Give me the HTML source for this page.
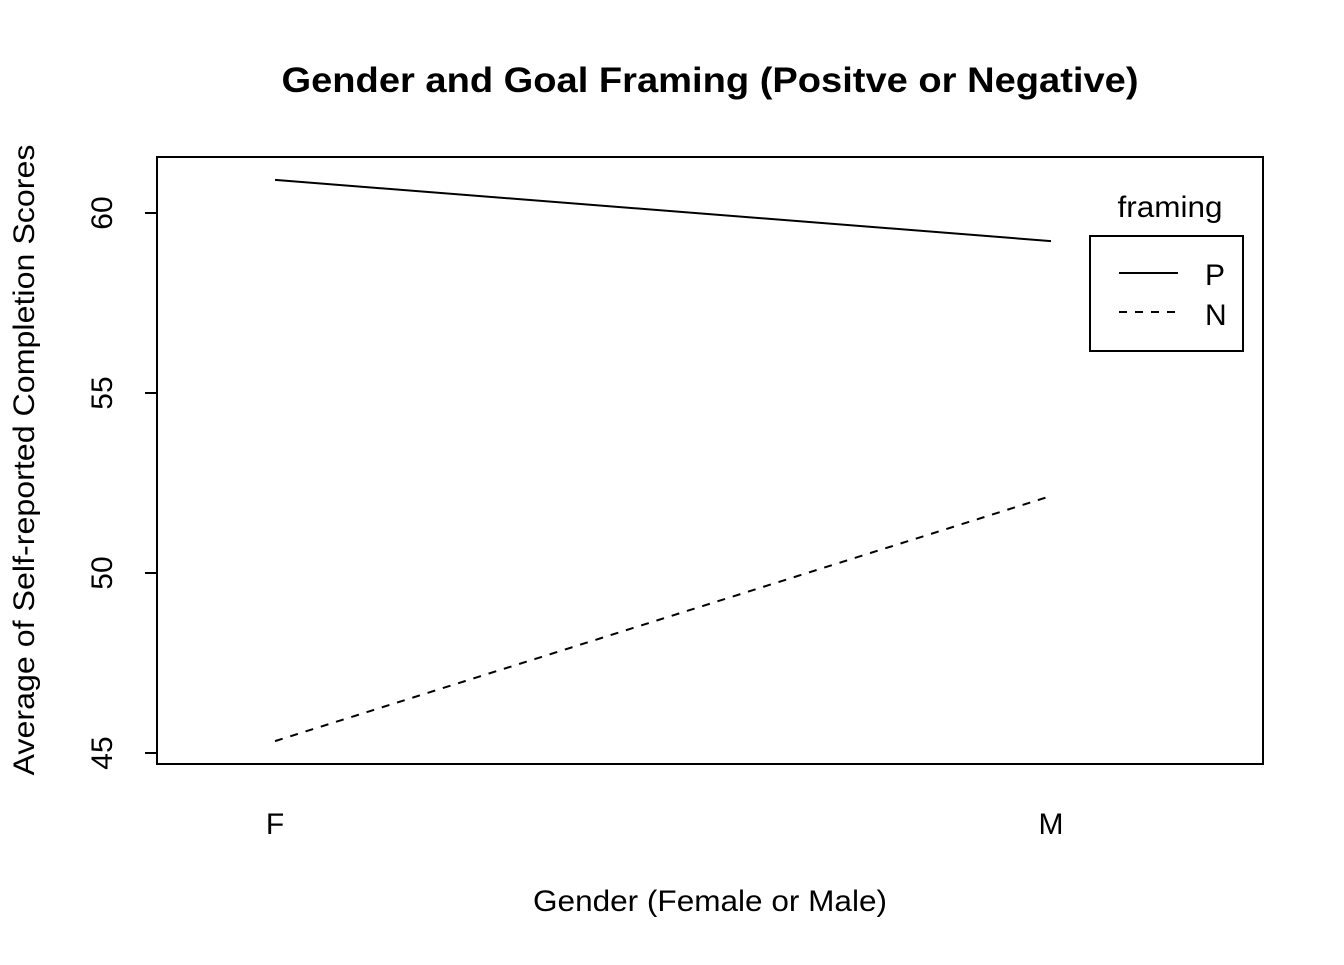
<!DOCTYPE html>
<html><head><meta charset="utf-8"><style>
body{margin:0;background:#fff}
svg text{font-family:"Liberation Sans",Arial,sans-serif;fill:#000}
</style></head><body>
<svg width="1344" height="960" viewBox="0 0 1344 960">
<text x="710" y="92" font-size="35" font-weight="bold" text-anchor="middle" textLength="857" lengthAdjust="spacingAndGlyphs">Gender and Goal Framing (Positve or Negative)</text>
<rect x="157" y="157" width="1106" height="607" fill="none" stroke="#000" stroke-width="2"/>
<g id="yaxis"></g>
<g id="xaxis"></g>
<g id="series"></g>
<text x="710" y="911" font-size="30" text-anchor="middle" textLength="354" lengthAdjust="spacingAndGlyphs">Gender (Female or Male)</text>
<text transform="translate(34,460) rotate(-90)" font-size="30" text-anchor="middle" textLength="631" lengthAdjust="spacingAndGlyphs">Average of Self-reported Completion Scores</text>
<g>
<text x="1170" y="217" font-size="30" text-anchor="middle" textLength="105" lengthAdjust="spacingAndGlyphs">framing</text>
<rect x="1090" y="236" width="153" height="115" fill="none" stroke="#000" stroke-width="2"/>
<line x1="1119" y1="273" x2="1178" y2="273" stroke="#000" stroke-width="2"/>
<text x="1205" y="285" font-size="30">P</text>
<line x1="1119" y1="312" x2="1178" y2="312" stroke="#000" stroke-width="2" stroke-dasharray="8,8"/>
<text x="1205" y="325" font-size="30">N</text>
</g>
</svg>
<script>
const categories=["F","M"];
const seriesP=[60.92,59.22];
const seriesN=[45.33,52.14];
const yTicks=[45,50,55,60];
const NS="http://www.w3.org/2000/svg";
function xs(i){return 275+i*(1051-275)/(categories.length-1);}
function ys(v){return 213+(60-v)*36;}
function mk(t,a,p){const e=document.createElementNS(NS,t);for(const k in a)e.setAttribute(k,a[k]);p.appendChild(e);return e;}
const ya=document.getElementById('yaxis');
mk('line',{x1:157,x2:157,y1:ys(yTicks[0]),y2:ys(yTicks[yTicks.length-1]),stroke:'#000','stroke-width':2},ya);
yTicks.forEach(v=>{
 const l=mk('line',{x1:145,x2:157,y1:ys(v),y2:ys(v),stroke:'#000','stroke-width':2},ya);
 
 
 const t=mk('text',{transform:`translate(112,${ys(v)}) rotate(-90)`,'font-size':30,'text-anchor':'middle'},ya);
 t.textContent=v;
 
 
});
const xa=document.getElementById('xaxis');
categories.forEach((c,i)=>{
 const t=mk('text',{x:xs(i),y:834,'font-size':30,'text-anchor':'middle'},xa);
 t.textContent=c;
 
 
});
const sg=document.getElementById('series');
function line(vals,dash,name){
 const pts=vals.map((v,i)=>xs(i)+','+ys(v)).join(' ');
 const p=mk('polyline',{points:pts,fill:'none',stroke:'#000','stroke-width':2},sg);
 if(dash)p.setAttribute('stroke-dasharray','8,8');
 
 
}
line(seriesP,false,'line-p');
line(seriesN,true,'line-n');
</script>
</body></html>
